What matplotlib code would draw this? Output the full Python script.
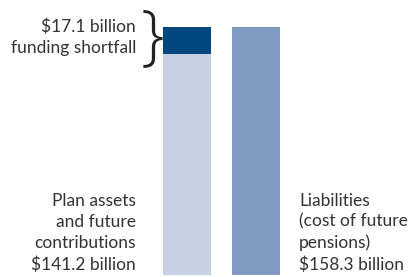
import matplotlib.pyplot as plt

# valores (bilhões de dólares)
ativos = 141.2
passivos = 158.3
deficit = 17.1

rotulo_ativos = "Plan assets\nand future\ncontributions\n$141.2 billion"
rotulo_passivos = "Liabilities\n(cost of future\npensions)\n$158.3 billion"
rotulo_deficit = "$17.1 billion\nfunding shortfall"

cor_clara = "#c8d1e4"
cor_escura = "#00467f"
cor_media = "#7f9bc1"
cor_texto = "#333333"

plt.rcParams["font.family"] = ["Lato", "DejaVu Sans"]

fig = plt.figure(figsize=(4.12, 2.77), dpi=100)
ax = fig.add_axes([0, 2 / 277, 1, 275 / 277])
ax.set_xlim(0, 412)
ax.set_ylim(0, 175.5)
ax.axis("off")

ax.bar(187, ativos, width=48, color=cor_clara)
ax.bar(187, deficit, width=48, bottom=ativos, color=cor_escura)
ax.bar(256, passivos, width=48, color=cor_media)

# textos em coordenadas de pixel (origem no topo)
def px(x, y):
    return x / 412, 1 - y / 277

fig.text(*px(136, 273), rotulo_ativos, ha="right", va="bottom",
         fontsize=12.5, color=cor_texto, linespacing=1.38)
fig.text(*px(299, 273), rotulo_passivos, ha="left", va="bottom",
         fontsize=12.5, color=cor_texto, linespacing=1.38)
fig.text(*px(136, 37), rotulo_deficit, ha="right", va="center",
         fontsize=12.5, color=cor_texto, linespacing=1.38)
fig.text(*px(152, 40), "}", ha="center", va="center",
         fontsize=48, color="#222222", family="Open Sans", fontweight="light")

fig.savefig("out.png", dpi=100)
